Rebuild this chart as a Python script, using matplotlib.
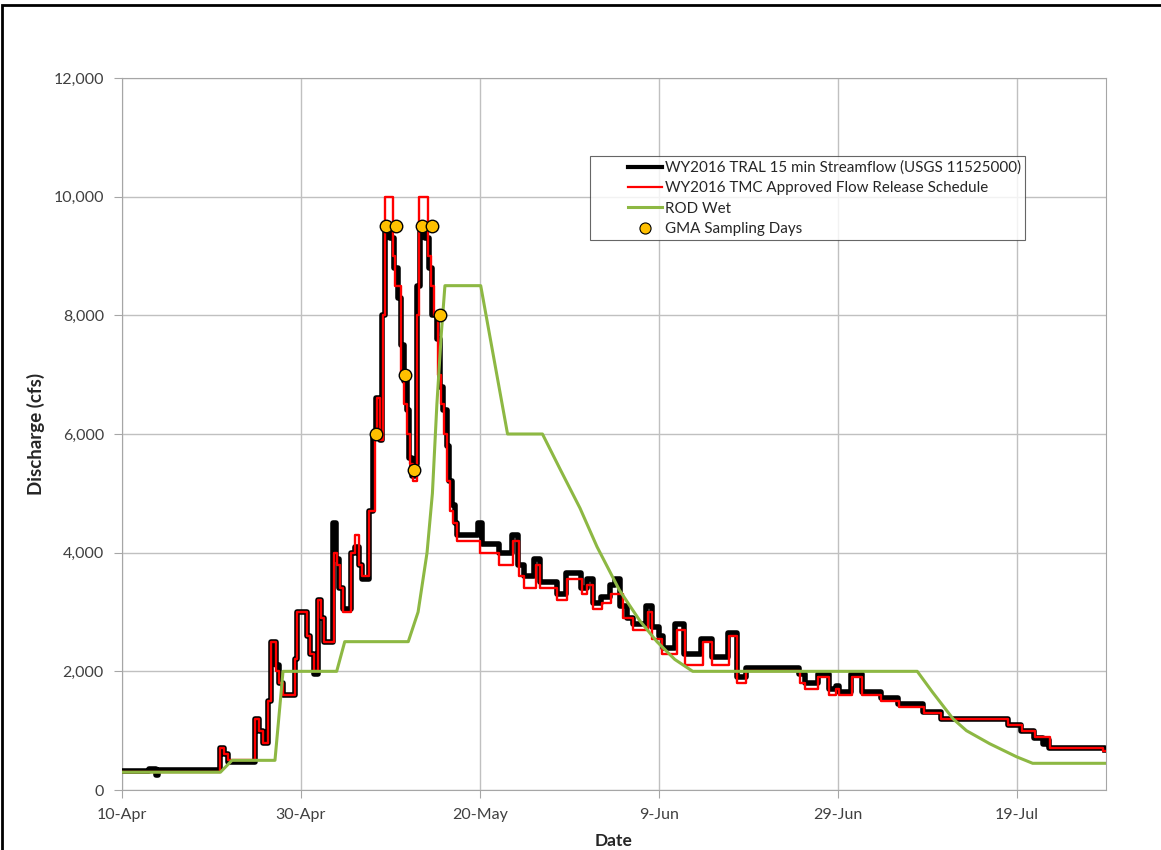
import numpy as np
import pandas as pd
import matplotlib
matplotlib.use("Agg")
import matplotlib.pyplot as plt
import matplotlib.dates as mdates
from matplotlib.patches import Rectangle
from matplotlib.lines import Line2D
from matplotlib.legend_handler import HandlerLine2D
from matplotlib.ticker import FuncFormatter

plt.rcParams['font.family'] = ['Lato', 'DejaVu Sans']

# --- Data (days after 10-Apr-2016, discharge in cfs) ---
START = pd.Timestamp("2016-04-10")

sched_days = [0, 10.95, 11.4, 11.8, 14.86, 15.3, 15.75, 16.3, 16.65, 17.2, 17.5, 18.0,
              19.33, 19.55, 20.67, 21.0, 21.45, 21.9, 22.2, 22.55, 23.7, 24.0, 24.36,
              24.7, 25.6, 26.0, 26.5, 26.8, 27.6, 28.27, 28.5, 28.8, 29.16, 29.4, 30.28,
              30.5, 31.2, 31.5, 31.84, 32.2, 32.5, 32.96, 33.2, 34.2, 34.5, 34.86, 35.3,
              35.64, 36.0, 36.3, 36.65, 37.0, 37.4, 40.0, 42.2, 43.7, 44.4, 44.9, 46.3,
              46.7, 48.6, 49.7, 51.4, 52.0, 52.6, 53.7, 54.7, 56.0, 57.1, 58.8, 59.3,
              60.4, 62.0, 62.9, 64.9, 66.0, 67.9, 68.7, 69.8, 75.75, 76.3, 77.8, 79.0,
              79.8, 80.2, 81.6, 82.7, 84.9, 86.9, 89.6, 91.6, 99.0, 100.6, 102.1, 103.7,
              109.7, 110]
sched_cfs = [300, 700, 600, 500, 1200, 1000, 800, 1500, 2500, 2000, 1800, 1600,
             2200, 3000, 2600, 2300, 2000, 3200, 2900, 2500, 4000, 3800, 3400,
             3000, 4000, 4300, 3800, 3600, 4700, 6000, 6600, 5900, 8000, 10000, 9000,
             8500, 7000, 6500, 6000, 5500, 5200, 8000, 10000, 9000, 8500, 8000, 7000,
             6500, 6000, 5200, 4700, 4500, 4200, 4000, 3800, 4200, 3600, 3400, 3800,
             3400, 3200, 3550, 3300, 3450, 3050, 3150, 3300, 2900, 2700, 3000, 2550,
             2300, 2700, 2100, 2500, 2100, 2600, 1800, 2000, 1800, 1700, 1900, 1600,
             1700, 1600, 1900, 1600, 1500, 1400, 1300, 1200, 1100, 1000, 900, 700,
             650, 650]

flow_days = [0, 3.0, 3.8, 4.0, 5.0, 10.9, 11.0, 11.4, 11.8, 14.9, 15.3, 15.75, 16.3, 16.65,
             17.2, 17.5, 18.0, 19.3, 19.55, 20.67, 21.0, 21.45, 21.9, 22.2, 22.55, 23.6,
             23.9, 24.3, 24.7, 25.6, 26.0, 26.5, 26.8, 27.6, 28.1, 28.4, 28.8, 29.1, 29.4,
             30.0, 30.4, 30.8, 31.2, 31.5, 31.84, 32.1, 32.4, 32.8, 33.0, 33.3, 33.9, 34.3,
             34.7, 35.2, 35.5, 35.9, 36.3, 36.6, 36.9, 37.2, 37.5, 39.8, 40.2, 42.2, 43.6,
             44.3, 44.9, 46.1, 46.7, 48.6, 49.6, 51.3, 52.0, 52.6, 53.6, 54.6, 55.1, 55.7,
             56.4, 57.1, 58.6, 59.2, 60.0, 60.5, 61.8, 62.8, 64.7, 66.0, 67.7, 68.7, 69.8,
             75.7, 76.3, 77.8, 79.0, 79.8, 80.2, 81.5, 82.7, 84.8, 86.8, 89.5, 91.6, 99.0,
             100.5, 102.0, 103.0, 103.3, 103.6, 109.9]
flow_cfs = [320, 350, 260, 340, 330, 330, 700, 600, 480, 1200, 1000, 800, 1500, 2500,
            2100, 1800, 1600, 2200, 3000, 2600, 2300, 1950, 3200, 2900, 2500, 4500,
            3900, 3400, 3050, 4000, 4100, 3800, 3550, 4700, 6000, 6600, 5900, 8000, 9400,
            9300, 8800, 8300, 7500, 6900, 6400, 5600, 5300, 5500, 8500, 9400, 9300, 8800,
            8000, 7600, 6800, 6400, 5800, 5200, 4800, 4500, 4300, 4500, 4150, 4000, 4300,
            3800, 3600, 3900, 3500, 3300, 3650, 3400, 3550, 3150, 3250, 3450, 3550, 3100,
            2900, 2800, 3100, 2750, 2600, 2400, 2800, 2300, 2550, 2250, 2650, 1900, 2050,
            1950, 1800, 1950, 1700, 1750, 1650, 1950, 1650, 1550, 1450, 1320, 1200, 1100,
            1000, 880, 780, 850, 700, 680]

rod_days = [0, 11.0, 12.3, 17.1, 18.0, 24.0, 24.9, 32.0, 33.1, 34.1, 34.7, 35.2, 35.7,
            36.1, 40.1, 43.1, 47.0, 49.0, 51.2, 53.1, 55.6, 57.9, 59.8, 61.8, 63.8, 88.9,
            90.6, 92.9, 94.4, 97.0, 100.0, 101.8, 110]
rod_cfs = [300, 300, 500, 500, 2000, 2000, 2500, 2500, 3000, 4000, 5000, 6500, 7700,
           8500, 8500, 6000, 6000, 5400, 4750, 4100, 3370, 2850, 2500, 2200, 2000, 2000,
           1650, 1200, 1000, 780, 560, 450, 450]

gma_days = [28.4, 29.5, 30.6, 31.6, 32.6, 33.5, 34.6, 35.6]
gma_cfs = [6000, 9500, 9500, 7000, 5400, 9500, 9500, 8000]

LABELS = ["WY2016 TRAL 15 min Streamflow (USGS 11525000)",
          "WY2016 TMC Approved Flow Release Schedule",
          "ROD Wet",
          "GMA Sampling Days"]


def to_dates(days):
    return START + pd.to_timedelta(np.asarray(days, dtype=float), unit="D")


class RightHalfLine(HandlerLine2D):
    # legend sample drawn only in the right half of the handle box (Excel style)
    def get_xdata(self, legend, xdescent, ydescent, width, height, fontsize):
        xd = np.array([width / 2 - xdescent, width - xdescent])
        return xd, np.array([0.75 * width - xdescent])


fig = plt.figure(figsize=(11.61, 8.5), dpi=100)
ax = fig.add_axes([122 / 1161, 60 / 850, (1106 - 122) / 1161, (790 - 78) / 850])

ax.plot(to_dates(flow_days), flow_cfs, color="black", lw=4, drawstyle="steps-post", zorder=3)
ax.plot(to_dates(sched_days), sched_cfs, color="#ff0000", lw=1.7, drawstyle="steps-post", zorder=4)
ax.plot(to_dates(rod_days), rod_cfs, color="#8db843", lw=2.2, zorder=4.5)
ax.plot(to_dates(gma_days), gma_cfs, "o", color="#ffc000", mec="black", mew=1.0, ms=9, zorder=5)

# --- Axes ---
ax.set_xlim(START, START + pd.Timedelta(days=110))
ax.set_ylim(0, 12000)
ax.set_yticks(np.arange(0, 12001, 2000))
ax.yaxis.set_major_formatter(FuncFormatter(lambda v, p: f"{int(v):,}"))
ax.set_xticks(to_dates(np.arange(0, 101, 20)))
ax.xaxis.set_major_formatter(FuncFormatter(
    lambda v, p: f"{mdates.num2date(v).day}-{mdates.num2date(v).strftime('%b')}"))
ax.grid(True, color="#c0c0c0", lw=1.0)
ax.set_axisbelow(True)
for s in ax.spines.values():
    s.set_color("#a6a6a6")
ax.tick_params(axis="both", colors="#a6a6a6", length=6, labelcolor="#404040", labelsize=11.5)
ax.tick_params(axis="y", pad=7)
ax.tick_params(axis="x", pad=7)
ax.set_xlabel("Date", fontsize=12.5, fontweight="bold", color="#262626", labelpad=8)
ax.set_ylabel("Discharge (cfs)", fontsize=13.5, fontweight="bold", color="#262626", labelpad=6)

handles = [Line2D([], [], color="black", lw=3),
           Line2D([], [], color="#ff0000", lw=1.6),
           Line2D([], [], color="#8db843", lw=2.2),
           Line2D([], [], ls="none", marker="o", color="#ffc000", mec="black", mew=0.8, ms=8)]
leg = ax.legend(handles, LABELS, loc="upper left", bbox_to_anchor=(0.476, 0.8905),
                fontsize=10.9, frameon=True, fancybox=False, handlelength=4.4,
                handletextpad=0.2, labelspacing=0.42, borderpad=0.3, borderaxespad=0,
                handler_map={Line2D: RightHalfLine()})
leg.get_frame().set_edgecolor("#404040")
leg.get_frame().set_linewidth(0.8)
for t in leg.get_texts():
    t.set_color("#262626")

# outer frame of the chart object
fig.patches.append(Rectangle((2 / 1161, -0.5), 2.0, 1.5 - 5 / 850, transform=fig.transFigure,
                             fill=False, edgecolor="black", lw=2, clip_on=False))

fig.savefig("out.png", dpi=100)
